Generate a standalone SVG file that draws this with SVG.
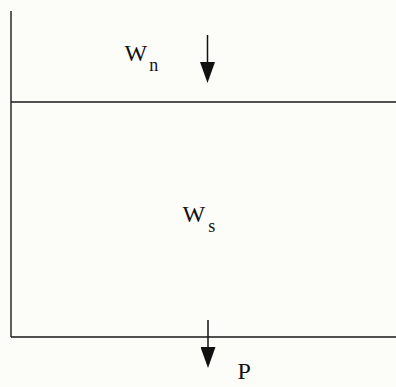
<svg xmlns="http://www.w3.org/2000/svg" width="396" height="387" viewBox="0 0 396 387">
<style>
.ln{stroke:#1a1a1a;stroke-width:1.4;fill:none}
.ar{stroke:#111;stroke-width:1.5;fill:none}
.t{font-family:"Liberation Serif","Times New Roman",serif;fill:#111}
.big{font-size:24px}
.sub{font-size:18px}
</style>
<defs>
<marker id="head" markerUnits="userSpaceOnUse" markerWidth="22" markerHeight="15" refX="0" refY="7.5" orient="auto" viewBox="0 0 22 15">
<path d="M0,0 L21,7.5 L0,15 Z" fill="#111"/>
</marker>
</defs>
<rect width="396" height="387" fill="#fcfcf9"/>
<g id="frame">
<line class="ln" x1="11" y1="11" x2="11" y2="337"/>
<line class="ln" x1="11" y1="102" x2="396" y2="102"/>
<line class="ln" x1="11" y1="337" x2="396" y2="337"/>
</g>
<g id="connectors">
<line class="ar" x1="207.5" y1="35" x2="207.5" y2="62" marker-end="url(#head)"/>
<line class="ar" x1="208" y1="320" x2="208" y2="347" marker-end="url(#head)"/>
</g>
<g id="node-wn">
<text class="t big" x="124.5" y="61">W<tspan class="sub" dx="2" dy="10">n</tspan></text>
</g>
<g id="node-ws">
<text class="t big" x="182.5" y="222">W<tspan class="sub" dx="3" dy="10">s</tspan></text>
</g>
<g id="node-p">
<text class="t big" x="237.5" y="379">P</text>
</g>
</svg>
